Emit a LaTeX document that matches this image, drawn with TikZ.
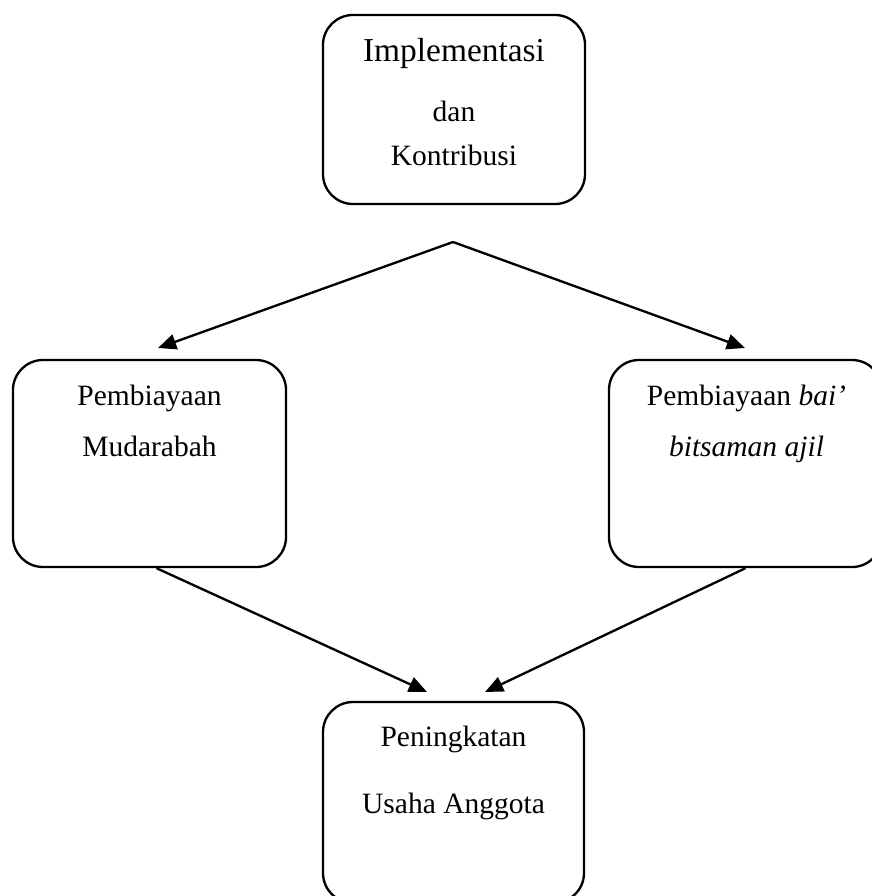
\documentclass[tikz,border=0pt]{standalone}
\usepackage{fontspec}
\setmainfont{Liberation Serif}
\usetikzlibrary{arrows.meta, calc, positioning}

\tikzset{
  kotak/.style={draw, line width=0.95pt, rounded corners=0.43cm, inner sep=0pt},
  panah/.style={line width=0.95pt, -{Triangle[length=0.26cm, width=0.22cm]}},
  teks/.style={anchor=base, inner sep=0pt, font=\fontsize{12}{14}\selectfont}
}

\begin{document}
\begin{tikzpicture}[x=0.0143cm, y=-0.0143cm]
\useasboundingbox (0,0) rectangle (872,896);
\clip (0,0) rectangle (872,896);

% Boxes
\node[kotak, minimum width=3.747cm, minimum height=2.703cm] (impl) at (454,109.5) {};
\node[kotak, minimum width=3.904cm, minimum height=2.960cm] (mudh) at (149.5,463.5) {};
\node[kotak, minimum width=3.904cm, minimum height=2.960cm] (bba)  at (745.5,463.5) {};
\node[kotak, minimum width=3.732cm, minimum height=2.874cm] (usaha) at (453.5,802.5) {};

% Box texts
\node[teks, font=\fontsize{13.6}{16}\selectfont] (implA) at ($(impl.north)+(0,48)$) {Implementasi};
\node[teks] (implB) at ($(impl.north)+(0,108)$) {dan};
\node[teks] (implC) at ($(impl.north)+(0,152)$) {Kontribusi};

\node[teks] (mudhA) at ($(mudh.north)+(0,47)$)  {Pembiayaan};
\node[teks] (mudhB) at ($(mudh.north)+(0,98)$)  {Mudarabah};

\node[teks] (bbaA) at ($(bba.north)+(1,47)$) {Pembiayaan \textit{bai’}};
\node[teks] (bbaB) at ($(bba.north)+(1,98)$) {\textit{bitsaman ajil}};

\node[teks] (usahaA) at ($(usaha.north)+(0,46)$)  {Peningkatan};
\node[teks] (usahaB) at ($(usaha.north)+(0,113)$) {Usaha Anggota};

% Coordinates
\coordinate (cabang) at (453,242);
\coordinate (ujungL) at (158,348);
\coordinate (ujungR) at (745,348);
\coordinate (ujungBL) at (427,692);
\coordinate (ujungBR) at (485,692);

% Arrows
\draw[panah] (cabang) -- (ujungL);
\draw[panah] (cabang) -- (ujungR);
\draw[panah] ($(mudh.south)+(7,0)$) -- (ujungBL);
\draw[panah] (bba.south) -- (ujungBR);

\end{tikzpicture}
\end{document}
